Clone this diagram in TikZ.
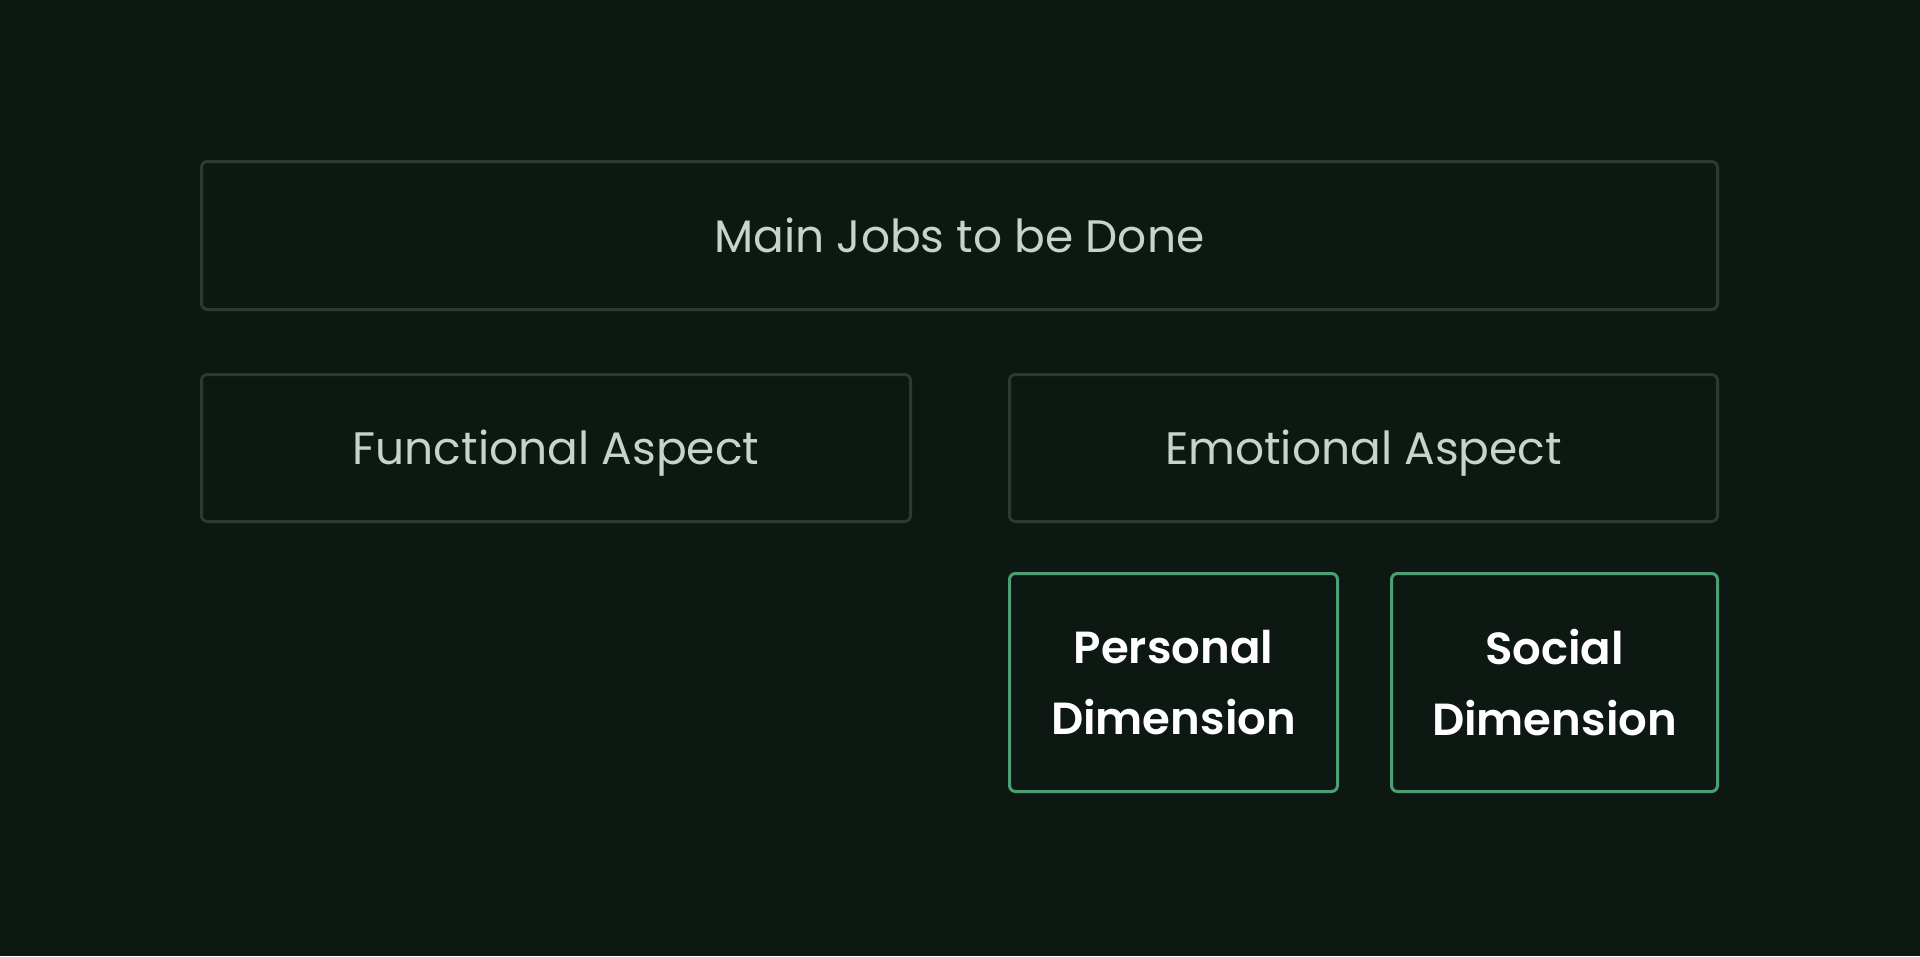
\documentclass[tikz,border=0pt]{standalone}
\usepackage{fontspec}
\setmainfont{Poppins}
\newfontfamily\popreg{Poppins}
\newfontfamily\popsemi{Poppins SemiBold}
\definecolor{bgc}{HTML}{0D1812}
\definecolor{graybd}{HTML}{2C3A33}
\definecolor{greenbd}{HTML}{4E9E73}
\definecolor{lighttext}{HTML}{C5D5CC}
\tikzset{
  plainbox/.style={draw=graybd, line width=3pt, rounded corners=6pt, fill=bgc, inner sep=0pt,
    text=lighttext, text depth=0pt, font=\popreg\fontsize{45.5}{56}\selectfont},
  dimbox/.style={draw=greenbd, line width=3pt, rounded corners=6pt, fill=bgc, inner sep=0pt,
    text=white, font=\popsemi\fontsize{45}{71}\selectfont, align=center}
}
\begin{document}
\begin{tikzpicture}[x=1pt,y=-1pt]
\fill[bgc] (0,0) rectangle (1920,956);
\useasboundingbox (0,0) rectangle (1920,956);
\node[plainbox, minimum width=1516pt, minimum height=148pt] (main) at (959.5,235.5) {Main Jobs to be Done};
\node[plainbox, minimum width=709pt, minimum height=147pt] (func) at (556,448) {\raisebox{2.5pt}{Functional Aspect}};
\node[plainbox, minimum width=708pt, minimum height=147pt] (emo) at (1363.5,448) {\raisebox{2.5pt}{Emotional Aspect}};
\node[dimbox, minimum width=328pt, minimum height=218pt] (pers) at (1173.5,682.5) {Personal\\Dimension};
\node[dimbox, minimum width=326pt, minimum height=218pt] (soc) at (1554.5,682.5) {Social\\Dimension};
\end{tikzpicture}
\end{document}
